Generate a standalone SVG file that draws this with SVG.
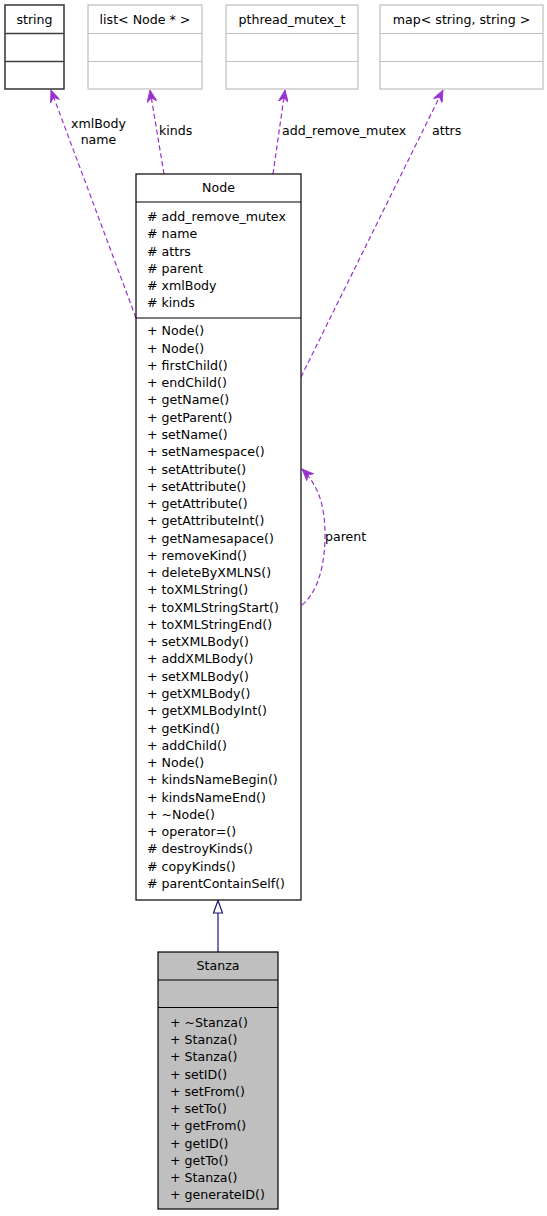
<svg xmlns="http://www.w3.org/2000/svg" width="547" height="1216" viewBox="0 0 547 1216">
<style>
text{font-family:"DejaVu Sans","Liberation Sans",sans-serif;font-size:12.6px;fill:#000}
.c{text-anchor:middle}
.box{fill:#fff;stroke:#000;stroke-width:1.2}
.gbox{fill:#fff;stroke:#bfbfbf;stroke-width:1.2}
.dbox{fill:#fff;stroke:#404040;stroke-width:1.6}
.div{stroke:#000;stroke-width:1.2}
.gdiv{stroke:#bfbfbf;stroke-width:1.2}
.ddiv{stroke:#404040;stroke-width:1.6}
.use{fill:none;stroke:#9a32cd;stroke-width:1.2;stroke-dasharray:5,3}
.inh{fill:none;stroke:#191970;stroke-width:1.2}
</style>
<defs>
<marker id="vee" viewBox="0 0 12 10" refX="12" refY="5" markerWidth="12" markerHeight="10" markerUnits="userSpaceOnUse" orient="auto">
<path d="M0,0 L12,5 L0,10 L4,5 Z" fill="#9a32cd" stroke="#9a32cd" stroke-width="0.8"/>
</marker>
</defs>
<rect width="547" height="1216" fill="#fff"/>

<g id="connectors">
<path class="use" d="M136,318 L51,90" marker-end="url(#vee)"/>
<text class="c" x="98.5" y="127.5">xmlBody</text>
<text class="c" x="98.5" y="144">name</text>
<path class="use" d="M164,174 L150,90" marker-end="url(#vee)"/>
<text x="159" y="135">kinds</text>
<path class="use" d="M273,174 L285,90" marker-end="url(#vee)"/>
<text x="282" y="134.5">add_remove_mutex</text>
<path class="use" d="M301,377 L443,90" marker-end="url(#vee)"/>
<text x="432" y="134.5">attrs</text>
<path class="use" d="M302,605 C318,592 325,565 325,535 C325,505 318,485 302,469" marker-end="url(#vee)"/>
<text x="325" y="541">parent</text>
<line class="inh" x1="218" y1="913" x2="218" y2="952"/>
<polygon points="218,900.5 213.5,913 222.5,913" fill="#fff" stroke="#191970" stroke-width="1.2"/>
</g>

<g id="string">
<rect class="dbox" x="5" y="5" width="59" height="84"/>
<line class="ddiv" x1="5" y1="33.5" x2="64" y2="33.5"/>
<line class="ddiv" x1="5" y1="61.5" x2="64" y2="61.5"/>
<text class="c" x="34.5" y="23.5">string</text>
</g>

<g id="list">
<rect class="gbox" x="88" y="5" width="114" height="84"/>
<line class="gdiv" x1="88" y1="33.5" x2="202" y2="33.5"/>
<line class="gdiv" x1="88" y1="61.5" x2="202" y2="61.5"/>
<text class="c" x="145" y="23.5">list&lt; Node * &gt;</text>
</g>

<g id="pthread_mutex_t">
<rect class="gbox" x="226" y="5" width="132" height="84"/>
<line class="gdiv" x1="226" y1="33.5" x2="358" y2="33.5"/>
<line class="gdiv" x1="226" y1="61.5" x2="358" y2="61.5"/>
<text class="c" x="292" y="23.5">pthread_mutex_t</text>
</g>

<g id="map">
<rect class="gbox" x="380" y="5" width="163" height="84"/>
<line class="gdiv" x1="380" y1="33.5" x2="543" y2="33.5"/>
<line class="gdiv" x1="380" y1="61.5" x2="543" y2="61.5"/>
<text class="c" x="461.5" y="23.5">map&lt; string, string &gt;</text>
</g>

<g id="Node">
<rect class="box" x="136" y="174" width="165" height="726"/>
<line class="div" x1="136" y1="202" x2="301" y2="202"/>
<line class="div" x1="136" y1="318" x2="301" y2="318"/>
<text class="c" x="218.5" y="192.3">Node</text>
<text x="147">
<tspan x="147" y="221">#&#160;add_remove_mutex</tspan>
<tspan x="147" y="238.3">#&#160;name</tspan>
<tspan x="147" y="255.5">#&#160;attrs</tspan>
<tspan x="147" y="272.8">#&#160;parent</tspan>
<tspan x="147" y="290.1">#&#160;xmlBody</tspan>
<tspan x="147" y="307.4">#&#160;kinds</tspan>
</text>
<text x="147">
<tspan x="147" y="335.3">+&#160;Node()</tspan>
<tspan x="147" y="352.6">+&#160;Node()</tspan>
<tspan x="147" y="369.8">+&#160;firstChild()</tspan>
<tspan x="147" y="387.1">+&#160;endChild()</tspan>
<tspan x="147" y="404.4">+&#160;getName()</tspan>
<tspan x="147" y="421.7">+&#160;getParent()</tspan>
<tspan x="147" y="438.9">+&#160;setName()</tspan>
<tspan x="147" y="456.2">+&#160;setNamespace()</tspan>
<tspan x="147" y="473.5">+&#160;setAttribute()</tspan>
<tspan x="147" y="490.7">+&#160;setAttribute()</tspan>
<tspan x="147" y="508.0">+&#160;getAttribute()</tspan>
<tspan x="147" y="525.3">+&#160;getAttributeInt()</tspan>
<tspan x="147" y="542.5">+&#160;getNamesapace()</tspan>
<tspan x="147" y="559.8">+&#160;removeKind()</tspan>
<tspan x="147" y="577.1">+&#160;deleteByXMLNS()</tspan>
<tspan x="147" y="594.4">+&#160;toXMLString()</tspan>
<tspan x="147" y="611.6">+&#160;toXMLStringStart()</tspan>
<tspan x="147" y="628.9">+&#160;toXMLStringEnd()</tspan>
<tspan x="147" y="646.2">+&#160;setXMLBody()</tspan>
<tspan x="147" y="663.4">+&#160;addXMLBody()</tspan>
<tspan x="147" y="680.7">+&#160;setXMLBody()</tspan>
<tspan x="147" y="698.0">+&#160;getXMLBody()</tspan>
<tspan x="147" y="715.2">+&#160;getXMLBodyInt()</tspan>
<tspan x="147" y="732.5">+&#160;getKind()</tspan>
<tspan x="147" y="749.8">+&#160;addChild()</tspan>
<tspan x="147" y="767.1">+&#160;Node()</tspan>
<tspan x="147" y="784.3">+&#160;kindsNameBegin()</tspan>
<tspan x="147" y="801.6">+&#160;kindsNameEnd()</tspan>
<tspan x="147" y="818.9">+&#160;~Node()</tspan>
<tspan x="147" y="836.1">+&#160;operator=()</tspan>
<tspan x="147" y="853.4">#&#160;destroyKinds()</tspan>
<tspan x="147" y="870.7">#&#160;copyKinds()</tspan>
<tspan x="147" y="888.0">#&#160;parentContainSelf()</tspan>
</text>
</g>

<g id="Stanza">
<rect x="158" y="952" width="120" height="257" fill="#bfbfbf" stroke="#000" stroke-width="1.2"/>
<line class="div" x1="158" y1="980" x2="278" y2="980"/>
<line class="div" x1="158" y1="1007.5" x2="278" y2="1007.5"/>
<text class="c" x="218" y="970">Stanza</text>
<text x="170">
<tspan x="170" y="1026.7">+&#160;~Stanza()</tspan>
<tspan x="170" y="1044.0">+&#160;Stanza()</tspan>
<tspan x="170" y="1061.2">+&#160;Stanza()</tspan>
<tspan x="170" y="1078.5">+&#160;setID()</tspan>
<tspan x="170" y="1095.8">+&#160;setFrom()</tspan>
<tspan x="170" y="1113.1">+&#160;setTo()</tspan>
<tspan x="170" y="1130.3">+&#160;getFrom()</tspan>
<tspan x="170" y="1147.6">+&#160;getID()</tspan>
<tspan x="170" y="1164.9">+&#160;getTo()</tspan>
<tspan x="170" y="1182.1">+&#160;Stanza()</tspan>
<tspan x="170" y="1199.4">+&#160;generateID()</tspan>
</text>
</g>
</svg>
